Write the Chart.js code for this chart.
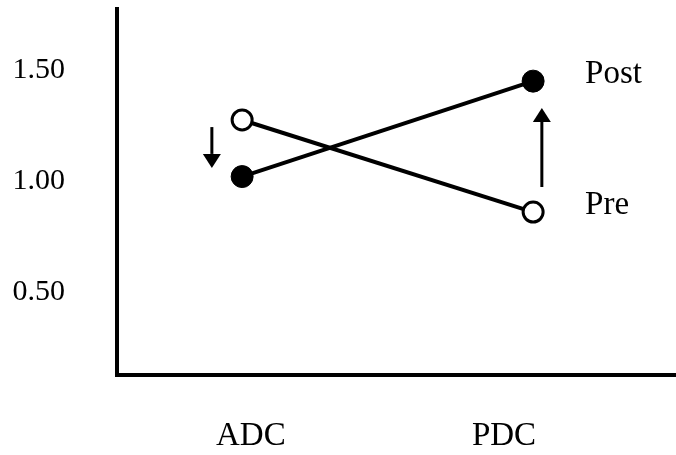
<!DOCTYPE html>
<html lang="en">
<head>
    <meta charset="UTF-8">
    <title>ADC / PDC Pre-Post</title>
    <script src="https://cdn.jsdelivr.net/npm/chart.js"></script>
    <style>
        html, body { margin: 0; padding: 0; background: #fff; overflow: hidden; }
        canvas { display: block; }
    </style>
</head>
<body>
    <canvas id="chart" width="676" height="455"></canvas>

    <script>
        const categories = ['ADC', 'PDC'];
        const preValues = [1.275, 0.86];
        const postValues = [1.02, 1.45];
        const yTicks = [0.50, 1.00, 1.50];
        // change arrows: x in category units, from -> to in y units
        const arrows = [
            { x: 0.896, from: 1.243, to: 1.059 },
            { x: 2.030, from: 0.973, to: 1.329 }
        ];

        const FAMILY = '"Liberation Serif", "DejaVu Serif", serif';
        const TICK_FONT = { family: FAMILY, size: 30 };
        const LABEL_FONT = { family: FAMILY, size: 33 };

        const pts = vals => vals.map((v, i) => ({ x: i + 1, y: v }));

        // draws Post/Pre labels and the arrows
        const extras = {
            id: 'extras',
            afterDatasetsDraw(chart) {
                const ctx = chart.ctx;
                const xs = chart.scales.x, ys = chart.scales.y;
                ctx.save();
                ctx.fillStyle = '#000';
                ctx.strokeStyle = '#000';
                ctx.font = LABEL_FONT.size + 'px ' + LABEL_FONT.family;
                ctx.textBaseline = 'middle';
                ctx.textAlign = 'left';
                chart.data.datasets.forEach(ds => {
                    const last = ds.data[ds.data.length - 1];
                    ctx.fillText(ds.label, xs.getPixelForValue(last.x) + 52, ys.getPixelForValue(last.y) - 7);
                });
                arrows.forEach(a => {
                    const px = xs.getPixelForValue(a.x);
                    const y0 = ys.getPixelForValue(a.from);
                    const y1 = ys.getPixelForValue(a.to);
                    const dir = y1 > y0 ? 1 : -1;
                    const head = 14;
                    ctx.lineWidth = 3;
                    ctx.beginPath();
                    ctx.moveTo(px, y0);
                    ctx.lineTo(px, y1 - dir * head);
                    ctx.stroke();
                    ctx.beginPath();
                    ctx.moveTo(px, y1);
                    ctx.lineTo(px - 9, y1 - dir * head);
                    ctx.lineTo(px + 9, y1 - dir * head);
                    ctx.closePath();
                    ctx.fill();
                });
                ctx.restore();
            }
        };

        new Chart(document.getElementById('chart'), {
            type: 'line',
            data: {
                datasets: [
                    {
                        label: 'Post',
                        data: pts(postValues),
                        borderColor: '#000',
                        borderWidth: 4,
                        pointRadius: 11,
                        pointBackgroundColor: '#000',
                        pointBorderColor: '#000',
                        pointBorderWidth: 1
                    },
                    {
                        label: 'Pre',
                        data: pts(preValues),
                        borderColor: '#000',
                        borderWidth: 4,
                        pointRadius: 10,
                        pointBackgroundColor: '#fff',
                        pointBorderColor: '#000',
                        pointBorderWidth: 3
                    }
                ]
            },
            options: {
                responsive: false,
                devicePixelRatio: 1,
                animation: false,
                layout: { autoPadding: false, padding: { top: 9, right: 0, left: 0, bottom: 0 } },
                plugins: { legend: { display: false }, tooltip: { enabled: false } },
                scales: {
                    x: {
                        type: 'linear',
                        min: 0.570,
                        max: 2.491,
                        grid: { display: false, drawTicks: false },
                        border: { display: true, color: '#000', width: 4 },
                        afterBuildTicks(scale) {
                            // labels sit a little off the points in the original
                            scale.ticks = [{ value: 1.03 }, { value: 1.9 }];
                        },
                        ticks: {
                            color: '#000',
                            font: LABEL_FONT,
                            padding: 42,
                            maxRotation: 0,
                            autoSkip: false,
                            callback: (v, i) => categories[i]
                        },
                        afterFit(scale) {
                            scale.height = 80;
                            scale.paddingLeft = 0;
                            scale.paddingRight = 0;
                        }
                    },
                    y: {
                        min: 0.126,
                        max: 1.775,
                        grid: { display: false, drawTicks: false },
                        border: { display: true, color: '#000', width: 4 },
                        afterBuildTicks(scale) {
                            scale.ticks = yTicks.map(v => ({ value: v }));
                        },
                        ticks: {
                            color: '#000',
                            font: TICK_FONT,
                            padding: 52,
                            callback: v => v.toFixed(2)
                        },
                        afterFit(scale) {
                            scale.width = 117;
                            scale.paddingTop = 0;
                            scale.paddingBottom = 0;
                        }
                    }
                }
            },
            plugins: [extras]
        });
    </script>
</body>
</html>
